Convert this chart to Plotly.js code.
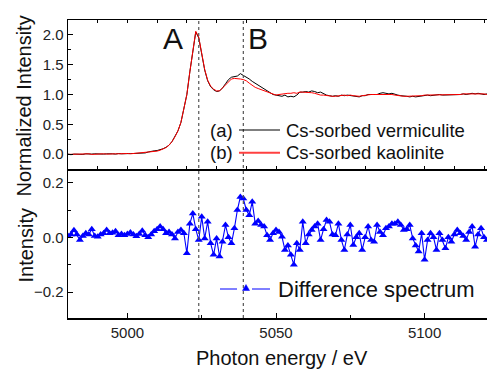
<!DOCTYPE html>
<html>
<head>
<meta charset="utf-8">
<script src="https://cdn.plot.ly/plotly-3.0.1.min.js"></script>
<style>html,body{margin:0;padding:0;background:#fff;}#chart{width:487px;height:370px;}</style>
</head>
<body>
<div id="chart"></div>
<script>
// Photon energy (eV)
const energy = [4980,4981,4982,4983,4984,4985,4986,4987,4988,4989,4990,4991,4992,4993,4994,4995,4996,4997,4998,4999,
5000,5001,5002,5003,5004,5005,5006,5007,5008,5009,5010,5011,5012,5013,5014,5015,5016,5017,5018,5019,
5020,5021,5022,5023,5024,5025,5026,5027,5028,5029,5030,5031,5032,5033,5034,5035,5036,5037,5038,5039,
5040,5041,5042,5043,5044,5045,5046,5047,5048,5049,5050,5051,5052,5053,5054,5055,5056,5057,5058,5059,
5060,5061,5062,5063,5064,5065,5066,5067,5068,5069,5070,5071,5072,5073,5074,5075,5076,5077,5078,5079,
5080,5081,5082,5083,5084,5085,5086,5087,5088,5089,5090,5091,5092,5093,5094,5095,5096,5097,5098,5099,
5100,5101,5102,5103,5104,5105,5106,5107,5108,5109,5110,5111,5112,5113,5114,5115,5116,5117,5118,5119,
5120,5121];

// (a) Cs-sorbed vermiculite
const vermiculite = [0.00,-0.01,0.00,-0.005,0.00,-0.005,0.005,0.00,0.00,0.005,0.00,0.005,0.00,0.005,0.01,0.005,0.00,0.01,0.005,0.01,
0.005,0.01,0.01,0.01,0.015,0.01,0.02,0.035,0.05,0.055,0.06,0.07,0.09,0.115,0.15,0.21,0.29,0.39,0.53,0.74,
1.00,1.38,1.76,2.05,1.95,1.66,1.41,1.23,1.13,1.08,1.05,1.06,1.11,1.18,1.25,1.29,1.30,1.31,1.35,1.32,
1.30,1.26,1.22,1.19,1.15,1.12,1.10,1.07,1.03,1.00,0.99,0.98,0.97,0.99,0.96,0.97,0.96,0.99,1.04,1.04,
1.05,1.04,1.06,1.05,1.03,1.04,1.01,0.99,0.98,0.97,0.98,0.97,0.99,0.98,0.99,0.98,0.97,0.97,0.96,0.98,
0.98,1.00,1.00,1.01,1.00,1.02,1.03,1.02,1.01,1.02,1.00,0.99,0.98,0.98,0.97,0.96,0.97,0.96,0.97,0.98,
0.98,0.99,0.98,0.99,1.00,1.00,0.99,0.99,1.00,0.99,0.99,1.00,1.00,1.01,1.00,1.01,1.02,1.01,1.02,1.01,
1.00,1.01];

// (b) Cs-sorbed kaolinite
const kaolinite = [-0.005,0.00,-0.005,0.00,0.00,0.005,0.00,0.005,-0.005,0.00,0.005,0.00,0.005,0.00,0.005,0.01,0.005,0.005,0.01,0.005,
0.01,0.005,0.01,0.015,0.01,0.015,0.02,0.025,0.03,0.04,0.05,0.065,0.085,0.11,0.15,0.21,0.29,0.39,0.53,0.74,
1.00,1.38,1.76,2.06,1.96,1.67,1.42,1.24,1.14,1.09,1.06,1.06,1.11,1.17,1.22,1.26,1.27,1.27,1.26,1.25,
1.23,1.19,1.15,1.12,1.10,1.08,1.07,1.05,1.03,1.00,0.99,1.00,1.01,1.02,1.02,1.02,1.03,1.02,1.04,1.04,
1.04,1.03,1.03,1.02,1.00,0.99,0.99,0.98,0.97,0.97,0.97,0.98,0.98,0.99,0.98,0.99,0.98,0.97,0.97,0.98,
0.99,0.99,1.00,1.00,1.00,1.01,1.01,1.00,1.00,1.00,0.99,0.98,0.98,0.97,0.97,0.97,0.97,0.98,0.98,0.98,
0.99,0.99,0.99,0.99,1.00,1.00,0.99,1.00,1.00,0.99,1.00,1.00,1.00,1.01,1.01,1.01,1.01,1.01,1.02,1.01,
1.01,1.00];

// Difference spectrum
const difference = [0.005,0.01,0.026,0.01,-0.01,0.005,0.015,0.01,0.03,0.005,0.002,0.01,0.015,0.027,0.015,0.017,0.022,0.008,0.012,0.008,
0.012,0.018,0.01,0.004,0.012,0.024,0.008,0.0,0.01,0.022,0.03,0.04,0.03,0.015,0.02,0.01,-0.004,0.02,0.027,0.015,
-0.058,0.05,0.087,0.03,-0.01,0.075,-0.004,0.057,-0.022,-0.064,-0.004,-0.07,-0.016,0.045,0.0,-0.022,0.033,0.1,0.148,0.142,
0.1,0.081,0.13,0.05,0.06,0.045,0.04,0.008,-0.01,0.015,0.027,0.02,0.002,-0.046,-0.03,-0.064,-0.1,-0.022,-0.046,0.057,
-0.022,0.01,0.027,0.04,0.05,-0.01,0.03,0.063,0.057,0.01,0.008,0.05,-0.01,-0.046,0.01,0.045,-0.028,0.0,0.015,-0.046,
0.0,0.04,-0.01,-0.016,0.045,0.02,0.008,0.033,0.04,0.05,0.05,0.057,0.045,0.027,0.03,0.045,-0.004,-0.03,-0.052,0.015,
-0.082,-0.01,0.015,0.0,-0.046,0.015,-0.01,-0.04,0.0,-0.016,0.01,0.027,0.015,0.005,-0.01,0.02,0.04,-0.034,0.01,0.033,
0.0,-0.01];

const markerA = 5024, markerB = 5039;

const FONT = 'Liberation Sans, Arial, sans-serif';

const traces = [
  {x: energy, y: vermiculite, xaxis: 'x2', yaxis: 'y2', mode: 'lines', line: {color: '#000000', width: 1}, showlegend: false},
  {x: energy, y: kaolinite, xaxis: 'x2', yaxis: 'y2', mode: 'lines', line: {color: '#ff0000', width: 1}, showlegend: false},
  {x: energy, y: difference, xaxis: 'x', yaxis: 'y', mode: 'lines+markers',
   line: {color: '#0000ff', width: 1.1}, marker: {symbol: 'triangle-up', size: 7, color: '#0000ff'}, showlegend: false}
];

const axCommon = {showline: true, linecolor: '#000', linewidth: 1.5, ticks: 'inside', tickcolor: '#000',
  showgrid: false, zeroline: false, tickfont: {family: FONT, size: 15, color: '#222'}};

function px2x(p){ return (p - 68) / 419; }
function py2y(p){ return (318 - p) / 298; }

const shapes = [
  {type: 'line', xref: 'x', yref: 'paper', x0: markerA, x1: markerA, y0: 0, y1: 1, line: {color: '#555', width: 1.2, dash: 'dot'}},
  {type: 'line', xref: 'x', yref: 'paper', x0: markerB, x1: markerB, y0: 0, y1: 1, line: {color: '#555', width: 1.2, dash: 'dot'}},
  {type: 'line', xref: 'paper', yref: 'paper', x0: px2x(239), x1: px2x(280), y0: py2y(130), y1: py2y(130), line: {color: '#000', width: 1.2}},
  {type: 'line', xref: 'paper', yref: 'paper', x0: px2x(239), x1: px2x(280), y0: py2y(152.7), y1: py2y(152.7), line: {color: '#ff4040', width: 2}},
  {type: 'line', xref: 'paper', yref: 'paper', x0: px2x(220), x1: px2x(237), y0: py2y(289), y1: py2y(289), line: {color: '#0000ff', width: 1}},
  {type: 'line', xref: 'paper', yref: 'paper', x0: px2x(252), x1: px2x(270), y0: py2y(289), y1: py2y(289), line: {color: '#0000ff', width: 1}},
  {type: 'path', xref: 'paper', yref: 'paper',
   path: 'M ' + px2x(242.5) + ' ' + py2y(290.5) + ' L ' + px2x(249.5) + ' ' + py2y(290.5) + ' L ' + px2x(246) + ' ' + py2y(284.5) + ' Z',
   fillcolor: '#0000ff', line: {color: '#0000ff', width: 0.5}}
];

const ann = (text, x, y, size, opts) => Object.assign({text: text, xref: 'paper', yref: 'paper', x: x, y: y,
  showarrow: false, font: {family: FONT, size: size, color: '#111'}, xanchor: 'center', yanchor: 'middle'}, opts || {});

const annotations = [
  ann('A', px2x(172.5), py2y(38), 30),
  ann('B', px2x(258), py2y(38), 30),
  ann('(a)', px2x(221.7), py2y(130), 18.5),
  ann('(b)', px2x(221.7), py2y(152.7), 18.5),
  ann('Cs-sorbed vermiculite', px2x(284), py2y(130), 18.5, {xanchor: 'left'}),
  ann('Cs-sorbed kaolinite', px2x(284), py2y(152.7), 18.5, {xanchor: 'left'}),
  ann('Difference spectrum', px2x(276), py2y(289), 22, {xanchor: 'left'}),
  ann('Normalized Intensity', px2x(23), py2y(106.5), 20, {textangle: -90}),
  ann('Intensity', px2x(25), py2y(245.5), 20, {textangle: -90}),
  ann('Photon energy / eV', px2x(282), py2y(358), 20)
];

const layout = {
  width: 487, height: 370,
  margin: {l: 68, r: 0, t: 20, b: 52},
  paper_bgcolor: '#fff', plot_bgcolor: '#fff',
  font: {family: FONT},
  showlegend: false,
  xaxis: Object.assign({}, axCommon, {domain: [0, 1], anchor: 'y', range: [4980, 5121], tick0: 5000, dtick: 50, ticklen: 5,
    minor: {dtick: 25, ticks: 'inside', ticklen: 3, tickcolor: '#000'}, mirror: false}),
  yaxis: Object.assign({}, axCommon, {domain: [0, 0.5], anchor: 'x', range: [-0.295, 0.25], tick0: 0, dtick: 0.2, ticklen: 5,
    tickformat: '.1f', minor: {dtick: 0.1, ticks: 'inside', ticklen: 3, tickcolor: '#000'}}),
  xaxis2: Object.assign({}, axCommon, {domain: [0, 1], anchor: 'y2', range: [4980, 5121], tick0: 5000, dtick: 10, ticklen: 3,
    showticklabels: false, mirror: 'ticks'}),
  yaxis2: Object.assign({}, axCommon, {domain: [0.5, 1], anchor: 'x2', range: [-0.25, 2.25], tick0: 0, dtick: 0.5, ticklen: 5,
    tickformat: '.1f', minor: {dtick: 0.25, ticks: 'inside', ticklen: 3, tickcolor: '#000'}}),
  shapes: shapes,
  annotations: annotations
};

Plotly.newPlot('chart', traces, layout, {displayModeBar: false, staticPlot: true});
</script>
</body>
</html>
